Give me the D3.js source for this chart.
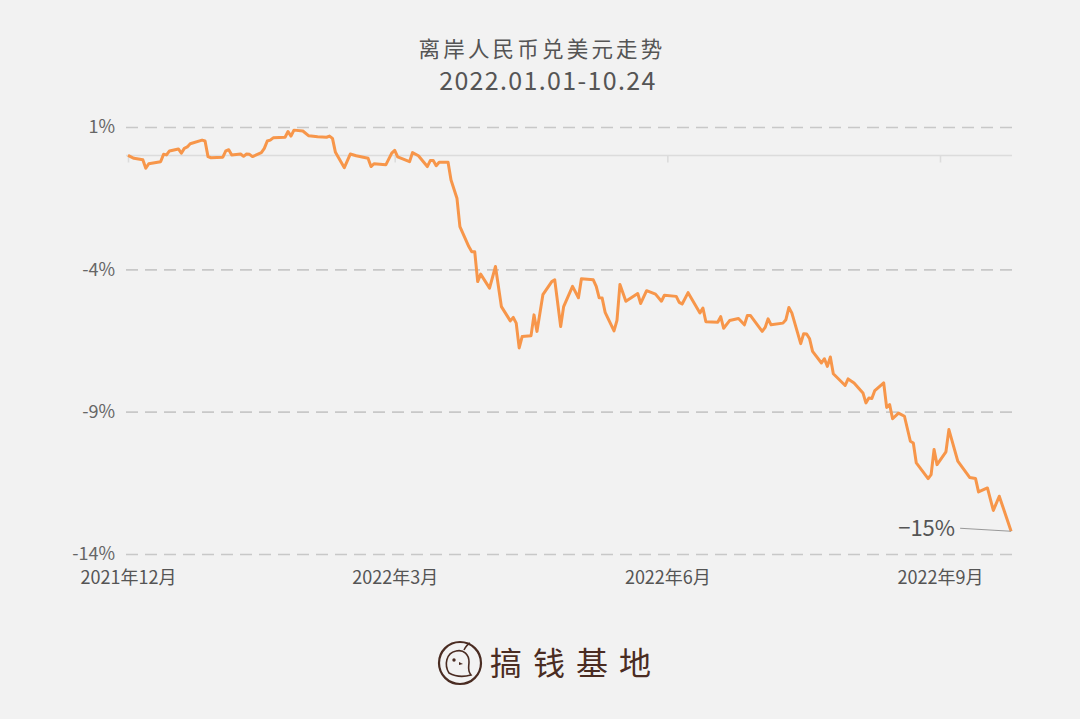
<!DOCTYPE html>
<html><head><meta charset="utf-8">
<script src="https://cdn.jsdelivr.net/npm/d3@7"></script>
<style>
html,body{margin:0;padding:0;background:#f2f2f2;}
svg{display:block;}
text{font-family:"Noto Sans CJK SC","Noto Sans",sans-serif;}
</style></head>
<body>
<svg id="c" width="1080" height="719"></svg>
<script>
// ---- data ----
const dates = ["2021-12-01","2021-12-03","2021-12-06","2021-12-07","2021-12-08","2021-12-12","2021-12-13","2021-12-14","2021-12-15","2021-12-18",
"2021-12-19","2021-12-20","2021-12-21","2021-12-22","2021-12-26","2021-12-27","2021-12-28","2021-12-29","2022-01-02","2022-01-03",
"2022-01-04","2022-01-05","2022-01-08","2022-01-09","2022-01-10","2022-01-11","2022-01-12","2022-01-15","2022-01-16","2022-01-17",
"2022-01-18","2022-01-19","2022-01-23","2022-01-24","2022-01-25","2022-01-26","2022-01-29","2022-01-31","2022-02-03","2022-02-06",
"2022-02-07","2022-02-08","2022-02-09","2022-02-12","2022-02-14","2022-02-16","2022-02-20","2022-02-21","2022-02-22","2022-02-26",
"2022-02-28","2022-03-01","2022-03-02","2022-03-06","2022-03-07","2022-03-09","2022-03-12","2022-03-13","2022-03-14","2022-03-15",
"2022-03-16","2022-03-19","2022-03-20","2022-03-22","2022-03-23","2022-03-26","2022-03-27","2022-03-28","2022-03-29","2022-03-30",
"2022-04-02","2022-04-04","2022-04-06","2022-04-09","2022-04-10","2022-04-11","2022-04-12","2022-04-13","2022-04-16","2022-04-17",
"2022-04-18","2022-04-20","2022-04-23","2022-04-24","2022-04-26","2022-04-27","2022-04-30","2022-05-02","2022-05-03","2022-05-07",
"2022-05-08","2022-05-09","2022-05-10","2022-05-11","2022-05-14","2022-05-15","2022-05-16","2022-05-18","2022-05-22","2022-05-23",
"2022-05-25","2022-05-28","2022-05-30","2022-05-31","2022-06-04","2022-06-05","2022-06-06","2022-06-08","2022-06-12","2022-06-13",
"2022-06-14","2022-06-18","2022-06-19","2022-06-20","2022-06-22","2022-06-25","2022-06-27","2022-06-28","2022-06-29","2022-07-03",
"2022-07-04","2022-07-05","2022-07-06","2022-07-10","2022-07-11","2022-07-12","2022-07-13","2022-07-16","2022-07-17","2022-07-18",
"2022-07-19","2022-07-20","2022-07-23","2022-07-24","2022-07-25","2022-07-26","2022-07-27","2022-07-31","2022-08-01","2022-08-03",
"2022-08-06","2022-08-07","2022-08-08","2022-08-09","2022-08-10","2022-08-13","2022-08-14","2022-08-15","2022-08-16","2022-08-18",
"2022-08-20","2022-08-22","2022-08-23","2022-08-24","2022-08-28","2022-08-29","2022-08-30","2022-08-31","2022-09-03","2022-09-04",
"2022-09-07","2022-09-11","2022-09-13","2022-09-14","2022-09-17","2022-09-19","2022-09-21","2022-09-25"];
const changePct = [0.00,-0.10,-0.15,-0.45,-0.29,-0.22,0.04,0.02,0.16,0.23,
0.08,0.25,0.30,0.41,0.54,0.51,-0.04,-0.08,-0.06,0.16,
0.20,0.02,0.05,-0.03,0.05,0.04,-0.04,0.10,0.25,0.51,
0.54,0.62,0.64,0.84,0.68,0.89,0.86,0.69,0.66,0.64,
0.68,0.60,0.11,-0.43,0.05,-0.01,-0.10,-0.39,-0.29,-0.33,
0.08,0.18,-0.05,-0.22,0.10,-0.01,-0.39,-0.18,-0.18,-0.36,
-0.24,-0.24,-0.86,-1.50,-2.50,-3.20,-3.38,-3.38,-4.43,-4.17,
-4.66,-3.90,-5.31,-5.81,-5.69,-5.89,-6.76,-6.36,-6.33,-5.60,
-6.18,-4.89,-4.43,-4.37,-6.01,-5.31,-4.60,-5.00,-4.33,-4.37,
-4.60,-5.00,-5.01,-5.51,-6.16,-5.79,-4.53,-5.12,-4.85,-5.20,
-4.75,-4.87,-5.12,-4.91,-4.95,-5.16,-5.22,-4.82,-5.53,-5.36,
-5.84,-5.86,-5.66,-6.07,-5.80,-5.73,-5.95,-5.62,-5.62,-6.18,
-6.04,-5.74,-5.95,-5.89,-5.77,-5.34,-5.53,-6.61,-6.26,-6.27,
-6.44,-6.88,-7.29,-7.14,-7.41,-7.08,-7.67,-8.08,-7.85,-7.99,
-8.34,-8.69,-8.52,-8.54,-8.26,-7.99,-8.85,-8.75,-9.25,-9.05,
-9.16,-10.04,-10.10,-10.80,-11.35,-11.21,-10.33,-10.86,-10.41,-9.63,
-10.74,-11.31,-11.35,-11.82,-11.68,-12.47,-11.97,-13.20];
const yTicks = [1,-4,-9,-14];
const yTickLabels = ["1%","-4%","-9%","-14%"];
const xTicks = ["2021-12-01","2022-03-01","2022-06-01","2022-09-01"];
const xTickLabels = ["2021年12月","2022年3月","2022年6月","2022年9月"];
const titleLines = ["离岸人民币兑美元走势","2022.01.01-10.24"];
const endLabel = "−15%";
const brand = "搞钱基地";

// ---- chart ----
const parse = d3.utcParse("%Y-%m-%d");
const data = dates.map((d,i)=>({date:parse(d), v:changePct[i]}));
const svg = d3.select("#c");
const x = d3.scaleUtc().domain([parse("2021-12-01"), parse("2022-09-01")]).range([128, 940]);
const y = d3.scaleLinear().domain([1,-14]).range([127, 554]);
const gridX0 = 126, gridX1 = 1012;

// title
svg.append("text").attr("x",542).attr("y",57).attr("text-anchor","middle")
  .attr("font-size",21.5).attr("letter-spacing",3.2).attr("fill","#555").text(titleLines[0]);
svg.append("text").attr("x",548).attr("y",90).attr("text-anchor","middle")
  .attr("font-size",25).attr("letter-spacing",1.35).attr("fill","#555").text(titleLines[1]);

// horizontal dashed gridlines
const yAxis = d3.axisLeft(y).tickValues(yTicks).tickSize(-(gridX1-gridX0))
  .tickFormat((d,i)=>yTickLabels[i]).tickPadding(11);
const gy = svg.append("g").attr("transform",`translate(${gridX0},0)`).call(yAxis);
gy.select(".domain").remove();
gy.selectAll(".tick line").attr("stroke","#c8c8c8").attr("stroke-width",1.6).attr("stroke-dasharray","12,7");
gy.selectAll(".tick text").attr("font-size",18).attr("fill","#666")
  .attr("font-family","'Noto Sans CJK SC','Noto Sans',sans-serif");

// zero baseline with ticks
svg.append("line").attr("x1",gridX0).attr("x2",gridX1).attr("y1",y(0)).attr("y2",y(0))
  .attr("stroke","#dcdcdc").attr("stroke-width",1.6);
const xAxis = d3.axisBottom(x).tickValues(xTicks.map(parse)).tickSize(7).tickFormat("");
const gx = svg.append("g").attr("transform",`translate(0,${y(0)})`).call(xAxis);
gx.select(".domain").remove();
gx.selectAll(".tick line").attr("stroke","#dcdcdc").attr("stroke-width",1.6);

// x labels at bottom
const gxl = svg.append("g").attr("transform","translate(0,571)")
  .call(d3.axisBottom(x).tickValues(xTicks.map(parse)).tickSize(0).tickPadding(0)
  .tickFormat((d,i)=>xTickLabels[i]));
gxl.select(".domain").remove();
gxl.selectAll(".tick text").attr("font-size",18).attr("fill","#555").attr("dy","0.7em")
  .attr("font-family","'Noto Sans CJK SC','Noto Sans',sans-serif");

// line
const line = d3.line().x(d=>x(d.date)).y(d=>y(d.v));
svg.append("path").datum(data).attr("d",line).attr("fill","none")
  .attr("stroke","#f7964a").attr("stroke-width",3).attr("stroke-linejoin","round");

// end annotation
const last = data[data.length-1];
svg.append("line").attr("x1",x(last.date)-51).attr("y1",y(last.v)-3)
  .attr("x2",x(last.date)).attr("y2",y(last.v)).attr("stroke","#999").attr("stroke-width",1.2);
svg.append("text").attr("x",x(last.date)-56).attr("y",y(last.v)+5).attr("text-anchor","end")
  .attr("font-size",22).attr("fill","#555").text(endLabel);

// brand logo
const lg = svg.append("g").attr("transform","translate(460,663)");
lg.append("circle").attr("r",21).attr("fill","none").attr("stroke","#4a2c22").attr("stroke-width",2.2);
lg.append("path").attr("d","M-11,10 C-16,2 -14,-10 -4,-12 C4,-14 9,-8 9,-1 C9,4 7,7 11,12 C4,14 -4,14 -11,10 Z")
  .attr("fill","none").attr("stroke","#4a2c22").attr("stroke-width",1.6);
lg.append("path").attr("d","M4,-13 C6,-17 8,-19 10,-20").attr("fill","none").attr("stroke","#4a2c22").attr("stroke-width",1.6);
lg.append("circle").attr("cx",-6).attr("cy",-3).attr("r",1.7).attr("fill","#4a2c22");
lg.append("path").attr("d","M-1,-1 L3,1 L-1,2 Z").attr("fill","#4a2c22");
svg.append("text").attr("x",490).attr("y",675).attr("font-size",32).attr("letter-spacing",11)
  .attr("fill","#4a2c22").text(brand);
</script>
</body></html>
